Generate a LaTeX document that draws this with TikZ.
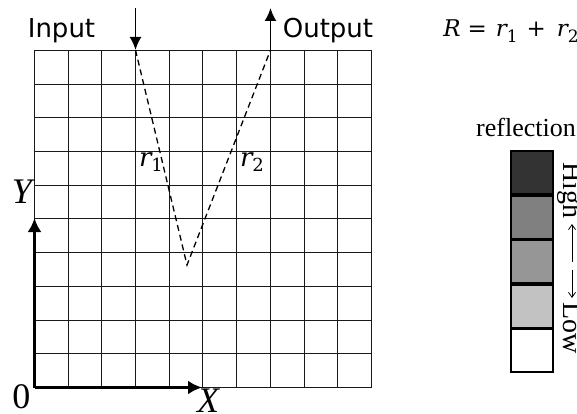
\documentclass[tikz,border=0pt]{standalone}
\usepackage{fontspec}
\setmainfont{Liberation Serif}
\newfontfamily\sansf{DejaVu Sans}
\newfontfamily\mserif{DejaVu Serif}
\usetikzlibrary{arrows.meta}
\newcommand\bigvar[3]{{\itshape #1}\raisebox{-5.5pt}{\fontsize{#3}{20}\selectfont #2}}
\tikzset{
  gridline/.style={line width=1.1pt, black!90},
  axisarrow/.style={line width=3pt, -{Latex[length=14pt,width=14pt]}},
  ioarrow/.style={line width=1.9pt, -{Latex[length=13pt,width=12pt]}},
  raypath/.style={line width=1.3pt, dash pattern=on 6pt off 4pt},
  sanslab/.style={font=\sansf\fontsize{26}{30}\selectfont, inner sep=0pt, anchor=base},
  biglab/.style={font=\fontsize{36}{42}\selectfont, inner sep=0pt, anchor=base},
  mathlab/.style={font=\mserif\fontsize{26}{30}\selectfont, inner sep=0pt, anchor=base},
  eqlab/.style={font=\mserif\fontsize{23}{28}\selectfont, inner sep=0pt, anchor=base east},
  serlab/.style={font=\fontsize{26}{30}\selectfont, inner sep=0pt},
  rotlab/.style={font=\fontsize{28}{32}\selectfont, inner sep=0pt, rotate=-90, anchor=base west},
  cbox/.style={draw, line width=1.8pt, minimum width=42pt, minimum height=42.8pt, inner sep=0pt},
  smallarrow/.style={line width=0.8pt, -{Straight Barb[length=5pt,width=7pt]}}
}
\begin{document}
\begin{tikzpicture}[x=1pt,y=-1pt]
\useasboundingbox (0,0) rectangle (577,414);
% grid
\foreach \i in {0,...,10} {
  \draw[gridline] ({round(34+\i*33.7)+0.5},50) -- ({round(34+\i*33.7)+0.5},387.5);
  \draw[gridline] (34,{round(50+\i*33.7)+0.5}) -- (371.5,{round(50+\i*33.7)+0.5});
}
% axes
\coordinate (O) at (34.5,387.5);
\coordinate (yTip) at (34.5,218);
\coordinate (xTip) at (202,387.5);
\draw[axisarrow] (O) -- (yTip);
\draw[axisarrow] (O) -- (xTip);
\node[biglab] (zero) at (21.5,408) {0};
\node[biglab] (xlab) at (208,412) {\itshape X};
\node[biglab] (ylab) at (22,203) {\itshape Y};
% input / output
\coordinate (inTop) at (135.5,8);
\coordinate (inP) at (135.5,50);
\coordinate (outP) at (270.5,50);
\coordinate (outTop) at (270.5,8);
\coordinate (bottom) at (187,265);
\draw[ioarrow] (inTop) -- (inP);
\draw[ioarrow] (outP) -- (outTop);
\node[sanslab] (input) at (61.5,38) {Input};
\node[sanslab] (output) at (328,38) {Output};
% ray path
\draw[raypath] (inP) -- (bottom) -- (outP);
\node[mathlab] (r1) at (151,166) {\bigvar{r}{1}{18}};
\node[mathlab] (r2) at (252,166) {\bigvar{r}{2}{18}};
% equation
\node[eqlab] (eq) at (579,37) {{\itshape R}\hspace{7pt}=\hspace{9pt}\bigvar{r}{1}{17}\hspace{9pt}+\hspace{11pt}\bigvar{r}{2}{17}};
% legend
\node[serlab, anchor=base] (refl) at (526,136) {reflection};
\node[cbox, fill={rgb,255:red,51;green,51;blue,51}] (c1) at (532,172.4) {};
\node[cbox, fill={rgb,255:red,128;green,128;blue,128}, anchor=north] (c2) at (c1.south) {};
\node[cbox, fill={rgb,255:red,150;green,150;blue,150}, anchor=north] (c3) at (c2.south) {};
\node[cbox, fill={rgb,255:red,194;green,194;blue,194}, anchor=north] (c4) at (c3.south) {};
\node[cbox, fill=white, anchor=north] (c5) at (c4.south) {};
\node[rotlab] (high) at (563,162) {High};
\node[rotlab] (low) at (563,302) {Low};
\coordinate (a1) at (572,262);
\coordinate (a2) at (572,224);
\coordinate (a3) at (572,270);
\coordinate (a4) at (572,298);
\draw[smallarrow] (a1) -- (a2);
\draw[smallarrow] (a3) -- (a4);
\end{tikzpicture}
\end{document}
